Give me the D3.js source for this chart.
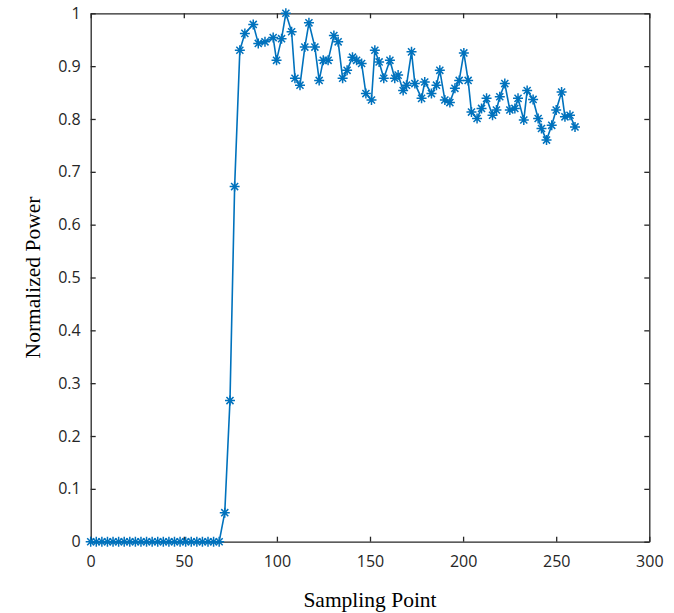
<!DOCTYPE html>
<html>
<head>
<meta charset="utf-8">
<script src="https://cdn.jsdelivr.net/npm/d3@7"></script>
<style>
  body { margin: 0; background: #fff; }
  .tick text { font-family: "Open Sans", "DejaVu Sans", sans-serif; font-size: 16px; fill: #262626; }
  .axis-title { font-family: "Liberation Serif", "Times New Roman", serif; font-size: 21.5px; fill: #000; }
</style>
</head>
<body>
<div id="chart"></div>
<script>
// sampling point positions
var samplePoints = [0, 3, 6, 9, 12, 15, 18, 21, 24, 27, 30, 33, 36, 39, 42, 45, 48, 51, 54, 57, 60, 63, 66, 69,
  72, 74.8, 77.3, 80.1, 82.8, 87.3, 90, 93.6, 98, 99.8, 102.5, 104.8, 107.9, 109.7, 112.4, 115, 117.2,
  120.4, 122.7, 124.9, 127.5, 130.6, 132.9, 135.3, 137.7, 140.6, 142.8, 145.5, 147.8, 150.8, 152.6,
  154.9, 157.4, 160.7, 163.3, 165.1, 167.8, 169.6, 172.3, 174.1, 177.7, 179.4, 183, 185.7, 187.5,
  190.2, 192.9, 195.6, 197.9, 200.4, 202.7, 204.5, 207.5, 209.9, 212.6, 215.8, 217.9, 219.7, 222.4,
  225.1, 227.8, 229.5, 232.6, 234.4, 237.6, 240.3, 242.1, 244.8, 247.6, 250, 252.9, 254.7, 257.4, 260.1];

var normPower = [0, 0, 0, 0, 0, 0, 0, 0, 0, 0, 0, 0, 0, 0, 0, 0, 0, 0, 0, 0, 0, 0, 0, 0,
  0.055, 0.267, 0.672, 0.930, 0.962, 0.979, 0.943, 0.946, 0.954, 0.911, 0.952, 1.0, 0.965, 0.877,
  0.864, 0.936, 0.982, 0.936, 0.873, 0.911, 0.911, 0.958, 0.946, 0.877, 0.892, 0.917, 0.911, 0.905,
  0.848, 0.836, 0.930, 0.908, 0.877, 0.911, 0.877, 0.883, 0.854, 0.864, 0.927, 0.867, 0.839, 0.870,
  0.848, 0.864, 0.892, 0.836, 0.831, 0.858, 0.873, 0.925, 0.873, 0.813, 0.801, 0.820, 0.839, 0.807,
  0.817, 0.842, 0.867, 0.817, 0.820, 0.839, 0.798, 0.854, 0.837, 0.801, 0.782, 0.760, 0.788, 0.817,
  0.851, 0.804, 0.807, 0.785];

var xTicks = [0, 50, 100, 150, 200, 250, 300];
var yTicks = [0, 0.1, 0.2, 0.3, 0.4, 0.5, 0.6, 0.7, 0.8, 0.9, 1];

var width = 674;
var height = 613;
var margin = { top: 13.3, right: 24.7, bottom: 71.3, left: 90.7 };
var plotW = width - margin.left - margin.right;
var plotH = height - margin.top - margin.bottom;
var blue = "#0072bd";
var axisColor = "#262626";

var svg = d3.select("#chart")
  .append("svg")
  .attr("width", width)
  .attr("height", height);

var g = svg.append("g")
  .attr("transform", "translate(" + margin.left + "," + margin.top + ")");

var x = d3.scaleLinear().domain([0, 300]).range([0, plotW]);
var y = d3.scaleLinear().domain([0, 1]).range([plotH, 0]);

// axes, ticks pointing inward (matlab style), box on
g.append("g")
  .attr("class", "axis axis--x")
  .attr("transform", "translate(0," + plotH + ")")
  .call(d3.axisBottom(x).tickValues(xTicks).tickSizeInner(-5).tickSizeOuter(0).tickPadding(14));

g.append("g")
  .attr("class", "axis axis--y")
  .call(d3.axisLeft(y).tickValues(yTicks).tickSizeInner(-5).tickSizeOuter(0).tickPadding(10)
    .tickFormat(function(d) { return d3.format("")(+d.toFixed(1)); }));

g.append("g")
  .attr("class", "axis axis--top")
  .call(d3.axisTop(x).tickValues(xTicks).tickSizeInner(-5).tickSizeOuter(0).tickFormat(""));

g.append("g")
  .attr("class", "axis axis--right")
  .attr("transform", "translate(" + plotW + ",0)")
  .call(d3.axisRight(y).tickValues(yTicks).tickSizeInner(-5).tickSizeOuter(0).tickFormat(""));

g.selectAll(".axis path, .axis line")
  .attr("stroke", axisColor)
  .attr("stroke-width", 1.3);

// the series
var pts = samplePoints.map(function(d, i) { return [d, normPower[i]]; });

var line = d3.line()
  .x(function(d) { return x(d[0]); })
  .y(function(d) { return y(d[1]); });

g.append("path")
  .datum(pts)
  .attr("d", line)
  .attr("fill", "none")
  .attr("stroke", blue)
  .attr("stroke-width", 1.6)
  .attr("stroke-linejoin", "round");

// asterisk markers
var r = 5, k = r * 0.7071;
var star = "M" + (-r) + ",0L" + r + ",0M0," + (-r) + "L0," + r +
  "M" + (-k) + "," + (-k) + "L" + k + "," + k + "M" + (-k) + "," + k + "L" + k + "," + (-k);

g.selectAll(".marker")
  .data(pts)
  .enter().append("path")
  .attr("class", "marker")
  .attr("transform", function(d) { return "translate(" + x(d[0]) + "," + y(d[1]) + ")"; })
  .attr("d", star)
  .attr("fill", "none")
  .attr("stroke", blue)
  .attr("stroke-width", 1.5);

// axis titles
svg.append("text")
  .attr("class", "axis-title")
  .attr("x", margin.left + plotW / 2)
  .attr("y", 607)
  .attr("text-anchor", "middle")
  .text("Sampling Point");

svg.append("text")
  .attr("class", "axis-title")
  .attr("transform", "translate(40," + (margin.top + plotH / 2) + ") rotate(-90)")
  .attr("text-anchor", "middle")
  .text("Normalized Power");
</script>
</body>
</html>
